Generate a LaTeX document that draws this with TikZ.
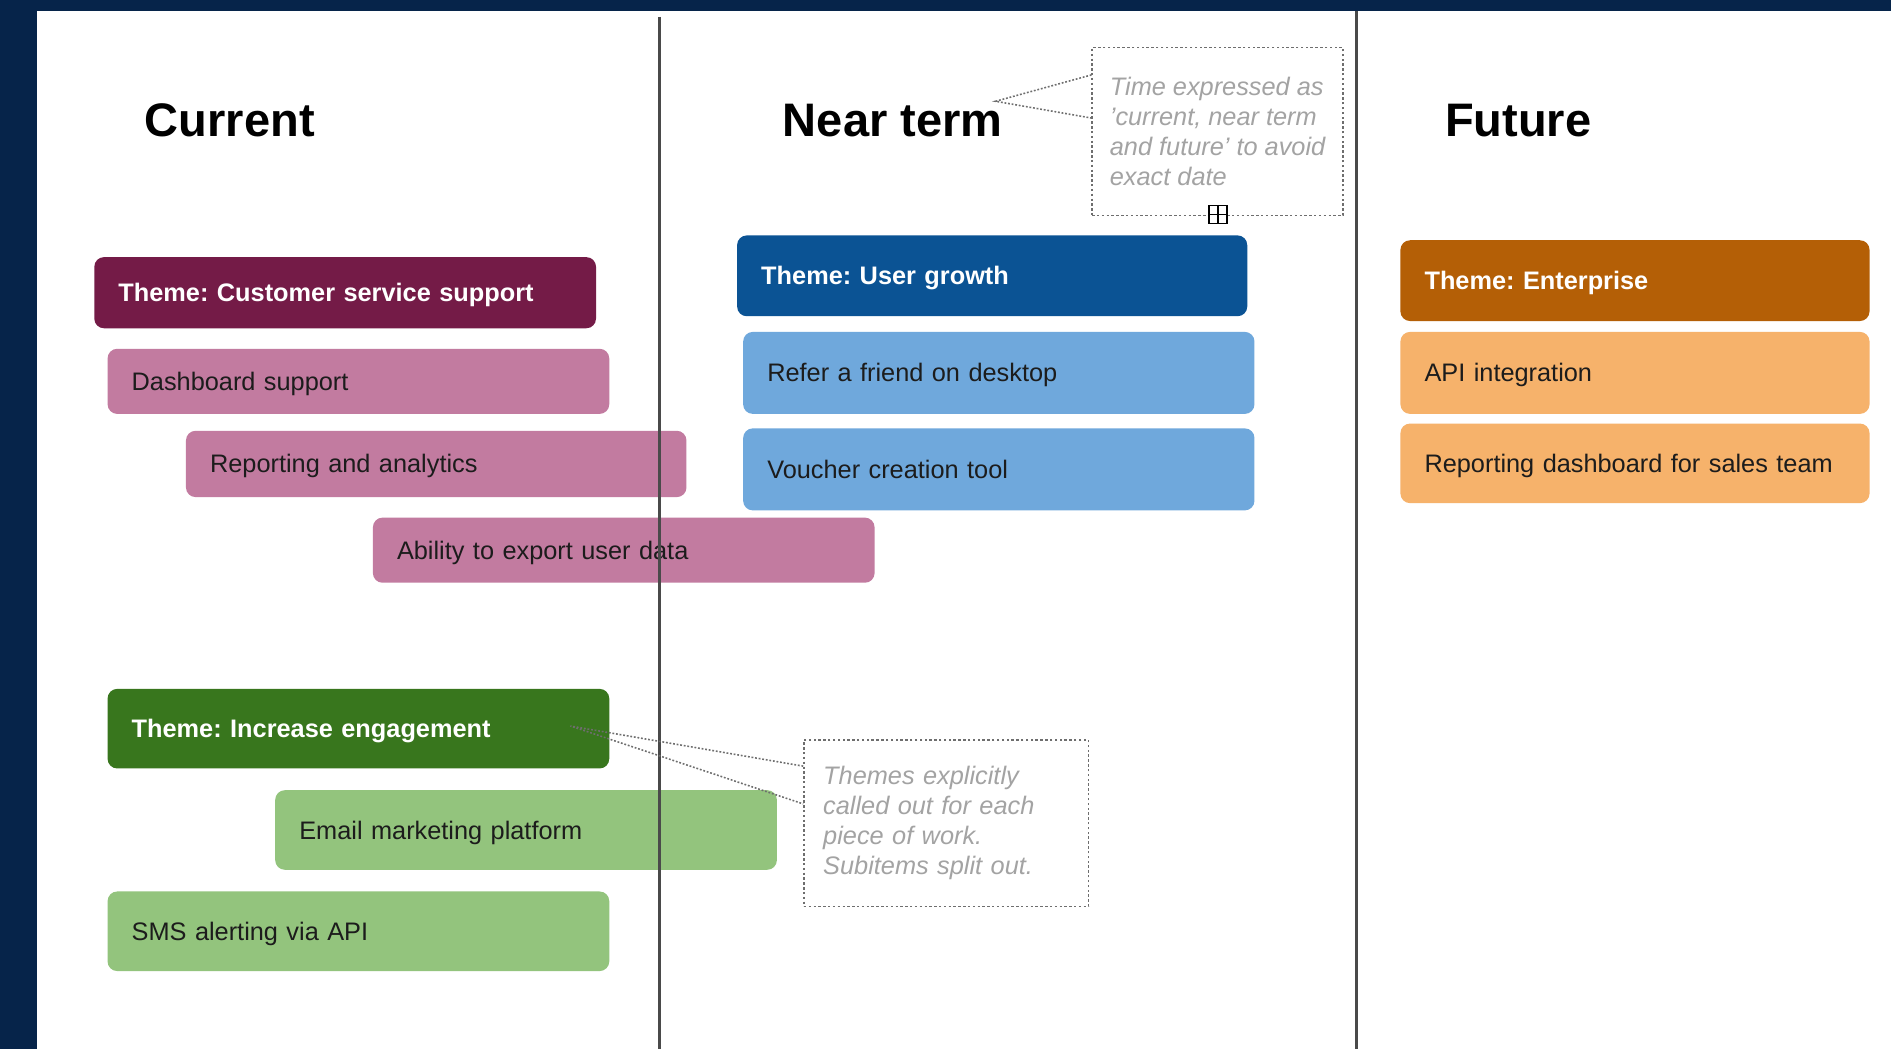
\documentclass[tikz,border=0pt]{standalone}
\usepackage{fontspec}
\setmainfont{Liberation Sans}
\usetikzlibrary{calc}
\frenchspacing
\definecolor{navy}{HTML}{06244A}
\definecolor{magA}{HTML}{741B47}
\definecolor{magB}{HTML}{C27BA0}
\definecolor{grnA}{HTML}{38761D}
\definecolor{grnB}{HTML}{93C47D}
\definecolor{bluA}{HTML}{0B5394}
\definecolor{bluB}{HTML}{6FA8DC}
\definecolor{orgA}{HTML}{B45F06}
\definecolor{orgB}{HTML}{F6B26B}
\definecolor{itemtext}{HTML}{1C1C1C}
\definecolor{notegray}{HTML}{6E6E6E}
\definecolor{notetext}{HTML}{A3A3A3}
\definecolor{divgray}{HTML}{4A4A4A}
\begin{document}
\begin{tikzpicture}[x=1pt,y=-1pt,
  box/.style={rectangle, rounded corners=8pt, anchor=north west, inner xsep=20pt, inner ysep=0pt, align=left, text height=15pt, text depth=0pt, font=\fontsize{21}{25}\selectfont},
  theme/.style={box, fill=#1, text=white, font=\fontsize{21}{25}\selectfont\bfseries},
  item/.style={box, fill=#1, text=itemtext},
  title/.style={anchor=base west, font=\fontsize{39}{47}\selectfont\bfseries, inner sep=0pt},
  note/.style={rectangle, anchor=north west, draw=notegray, dash pattern=on 2pt off 2pt, line width=1.2pt, inner sep=0pt, align=left, text=notetext, font=\fontsize{21}{25}\selectfont\itshape},
  ptr/.style={draw=notegray, dash pattern=on 1.5pt off 1.5pt, line width=1.3pt},
  divider/.style={draw=divgray, line width=2.5pt},
  handle/.style={rectangle, draw=black, fill=white, minimum size=15pt, inner sep=0pt, line width=1.2pt}
]
\useasboundingbox (0,0) rectangle (1568,870);
\fill[navy] (0,0) rectangle (1568,870);
\fill[white] (31,9) rectangle (1568,870);

% titles
\node[title] (cur) at (120,113) {Current};
\node[title] (nt) at (649,113) {Near term};
\node[title] (fut) at (1198,113) {Future};

% current column
\node[theme=magA, text width=376pt, minimum height=59pt] (cs) at (78,213) {Theme: Customer service support};
\node[item=magB, text width=376pt, minimum height=54pt] (dash) at (89,289) {Dashboard support};
\node[item=magB, text width=375pt, minimum height=55pt] (rep) at (154,357) {Reporting and analytics};
\node[item=magB, text width=376pt, minimum height=54pt] (exp) at (309,429) {Ability to export user data};
\node[theme=grnA, text width=376pt, minimum height=66pt] (eng) at (89,571) {Theme: Increase engagement};
\node[item=grnB, text width=376pt, minimum height=66pt] (mail) at (228,655) {Email marketing platform};
\node[item=grnB, text width=376pt, minimum height=66pt] (sms) at (89,739) {SMS alerting via API};

% near term column
\node[theme=bluA, text width=383pt, minimum height=67pt] (ug) at (611,195) {Theme: User growth};
\node[item=bluB, text width=384pt, minimum height=68pt] (ref) at (616,275) {Refer a friend on desktop};
\node[item=bluB, text width=384pt, minimum height=68pt] (vou) at (616,355) {Voucher creation tool};

% future column
\node[theme=orgA, text width=349pt, minimum height=67pt] (ent) at (1161,199) {Theme: Enterprise};
\node[item=orgB, text width=349pt, minimum height=68pt] (api) at (1161,275) {API integration};
\node[item=orgB, text width=349pt, minimum height=66pt] (rds) at (1161,351) {Reporting dashboard for sales team};

% dividers
\draw[divider] (547,14) -- (547,870);
\draw[divider] (1125,9) -- (1125,870);

% notes
\node[note, minimum width=208pt, minimum height=139pt] (n1) at (905,39) {Time expressed as\\'current, near term\\and future' to avoid\\exact date};
\node[handle] (hd) at (1010,178) {};
\draw[line width=1.2pt] (hd.north) -- (hd.south) (hd.west) -- (hd.east);
\draw[ptr] ($(n1.north west)!0.165!(n1.south west)$) -- ($(nt.north east)+(-6,-2)$) -- ($(n1.north west)!0.42!(n1.south west)$);

\node[note, inner xsep=16pt, text width=204pt, minimum height=138pt] (n2) at (666,613) {Themes explicitly\\called out for each\\piece of work.\\Subitems split out.};
\coordinate (tip2) at (473,602);
\draw[ptr] ($(n2.north west)!0.16!(n2.south west)$) -- (tip2) -- ($(n2.north west)!0.385!(n2.south west)$);
\end{tikzpicture}
\end{document}
